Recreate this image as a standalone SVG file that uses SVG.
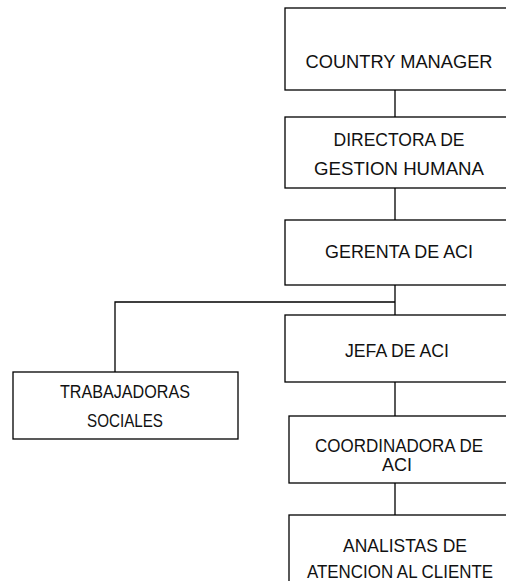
<svg xmlns="http://www.w3.org/2000/svg" width="506" height="581" viewBox="0 0 506 581">
<style>
.box{fill:#fff;stroke:#000;stroke-width:1.3}
.ln{fill:none;stroke:#000;stroke-width:1.3}
text{font-family:"Liberation Sans",Arial,sans-serif;font-size:18px;fill:#111;text-anchor:middle}
</style>
<rect width="506" height="581" fill="#fff"/>
<g id="connectors">
<path class="ln" d="M395 90V117M395 188V220M395 285V315M395 302H115V372M395 382V416M395 483V515"/>
</g>
<g id="country-manager">
<rect class="box" x="285" y="8" width="230" height="82"/>
<text x="399" y="68" textLength="187" lengthAdjust="spacingAndGlyphs">COUNTRY MANAGER</text>
</g>
<g id="directora">
<rect class="box" x="285" y="117" width="230" height="71"/>
<text x="399" y="146" textLength="131" lengthAdjust="spacingAndGlyphs">DIRECTORA DE</text>
<text x="399" y="175" textLength="170" lengthAdjust="spacingAndGlyphs">GESTION HUMANA</text>
</g>
<g id="gerenta">
<rect class="box" x="285" y="220" width="230" height="65"/>
<text x="399" y="258" textLength="148" lengthAdjust="spacingAndGlyphs">GERENTA DE ACI</text>
</g>
<g id="trabajadoras">
<rect class="box" x="13" y="372" width="225" height="67"/>
<text x="125" y="398" textLength="130" lengthAdjust="spacingAndGlyphs">TRABAJADORAS</text>
<text x="125" y="427" textLength="76" lengthAdjust="spacingAndGlyphs">SOCIALES</text>
</g>
<g id="jefa">
<rect class="box" x="285" y="315" width="230" height="67"/>
<text x="397" y="357" textLength="104" lengthAdjust="spacingAndGlyphs">JEFA DE ACI</text>
</g>
<g id="coordinadora">
<rect class="box" x="289" y="416" width="230" height="67"/>
<text x="399" y="452" textLength="168" lengthAdjust="spacingAndGlyphs">COORDINADORA DE</text>
<text x="397" y="471" textLength="30" lengthAdjust="spacingAndGlyphs">ACI</text>
</g>
<g id="analistas">
<rect class="box" x="289" y="515" width="230" height="80"/>
<text x="405" y="552" textLength="124" lengthAdjust="spacingAndGlyphs">ANALISTAS DE</text>
<text x="400" y="578" textLength="186" lengthAdjust="spacingAndGlyphs">ATENCION AL CLIENTE</text>
</g>
</svg>
